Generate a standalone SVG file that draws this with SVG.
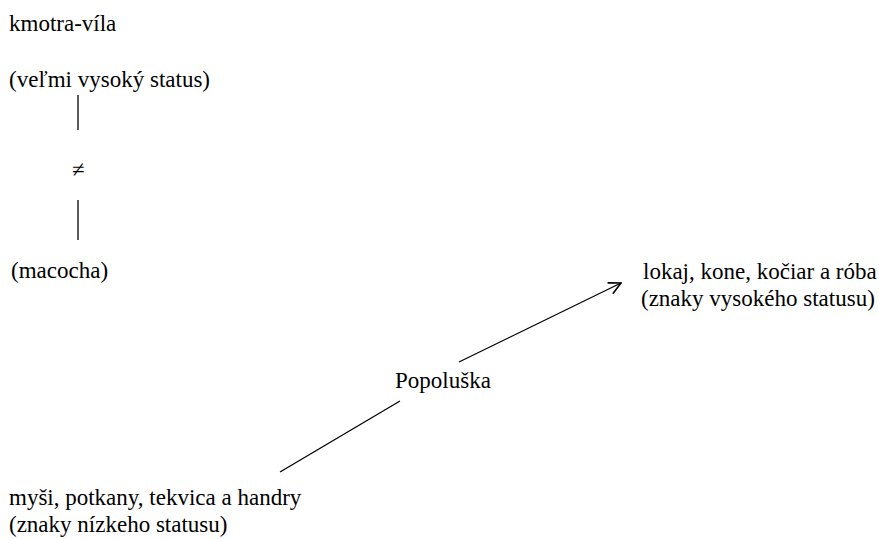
<svg xmlns="http://www.w3.org/2000/svg" width="879" height="539" viewBox="0 0 879 539">
<style>
text{font-family:"Liberation Serif","Times New Roman",serif;font-size:23px;fill:#000}
.c{stroke:#000;stroke-width:1.3;fill:none}
</style>
<defs>
<marker id="ah" viewBox="0 0 14 14" refX="13" refY="7" markerWidth="14" markerHeight="14" markerUnits="userSpaceOnUse" orient="auto">
<path d="M1,1 L13,7 L1,13" fill="none" stroke="#000" stroke-width="1.6"/>
</marker>
</defs>
<rect width="879" height="539" fill="#fff"/>
<g id="kmotra"><text x="9" y="31">kmotra-víla</text><text x="9" y="87">(veľmi vysoký status)</text></g>
<g id="macocha"><text x="11" y="278">(macocha)</text></g>
<g id="neq"><text x="72" y="177">≠</text></g>
<g id="vysoky"><text x="643" y="279">lokaj, kone, kočiar a róba</text><text x="641" y="306">(znaky vysokého statusu)</text></g>
<g id="popoluska"><text x="395" y="388">Popoluška</text></g>
<g id="nizky"><text x="9" y="505">myši, potkany, tekvica a handry</text><text x="9" y="532">(znaky nízkeho statusu)</text></g>
<g id="connectors">
<line class="c" x1="78" y1="95" x2="78" y2="130"/>
<line class="c" x1="78" y1="200" x2="78" y2="240"/>
<line class="c" x1="280" y1="472" x2="400" y2="401"/>
<line class="c" x1="459" y1="362" x2="621" y2="283" stroke-width="2" marker-end="url(#ah)"/>
</g>
</svg>
